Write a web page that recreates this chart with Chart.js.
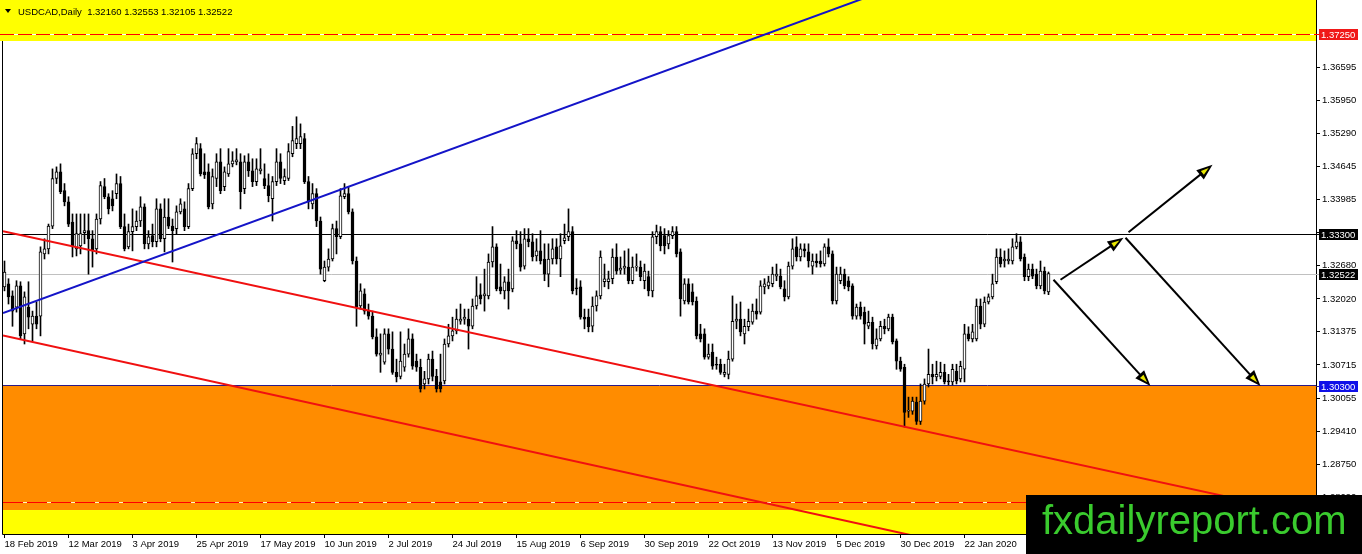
<!DOCTYPE html>
<html>
<head>
<meta charset="utf-8">
<script src="https://cdn.jsdelivr.net/npm/chart.js@4.4.1/dist/chart.umd.min.js"></script>
<style>
html,body{margin:0;padding:0;background:#fff;}
canvas{display:block;}
</style>
</head>
<body>
<canvas id="chart" width="1362" height="554"></canvas>
<script>
const title = "USDCAD,Daily  1.32160 1.32553 1.32105 1.32522";
const watermark = "fxdailyreport.com";

// x ticks: bar number -> date label
const dateTickBars = [0,16,32,48,64,80,96,112,128,144,160,176,192,208,224,240];
const dateTickLabels = ["18 Feb 2019","12 Mar 2019","3 Apr 2019","25 Apr 2019","17 May 2019","10 Jun 2019",
  "2 Jul 2019","24 Jul 2019","15 Aug 2019","6 Sep 2019","30 Sep 2019","22 Oct 2019","13 Nov 2019",
  "5 Dec 2019","30 Dec 2019","22 Jan 2020"];
const priceTicks = [1.36595,1.35950,1.35290,1.34645,1.33985,1.33325,1.32680,1.32020,1.31375,1.30715,1.30055,1.29410,1.28750,1.28090];

/* daily candles */
const opens = [
1.3226,1.3232,1.3208,1.3186,1.3228,1.3133,1.3186,1.3152,1.3168,1.3168,
1.3291,1.3301,1.3346,1.3440,1.3453,1.3416,1.3394,1.3354,1.3301,1.3307,
1.3333,1.3337,1.3321,1.3301,1.3360,1.3424,1.3404,1.3400,1.3410,1.3430,
1.3345,1.3305,1.3335,1.3345,1.3356,1.3384,1.3311,1.3327,1.3315,1.3380,
1.3321,1.3364,1.3346,1.3341,1.3374,1.3380,1.3345,1.3420,1.3489,1.3499,
1.3453,1.3453,1.3390,1.3440,1.3473,1.3424,1.3449,1.3469,1.3473,1.3473,
1.3420,1.3473,1.3455,1.3434,1.3455,1.3440,1.3426,1.3400,1.3434,1.3473,
1.3436,1.3440,1.3489,1.3509,1.3509,1.3519,1.3434,1.3390,1.3410,1.3356,
1.3238,1.3265,1.3281,1.3341,1.3325,1.3404,1.3410,1.3374,1.3277,1.3188,
1.3212,1.3178,1.3168,1.3127,1.3091,1.3077,1.3133,1.3103,1.3057,1.3049,
1.3067,1.3093,1.3123,1.3079,1.3067,1.3034,1.3044,1.3083,1.3049,1.3038,
1.3040,1.3113,1.3129,1.3139,1.3158,1.3162,1.3162,1.3148,1.3188,1.3210,
1.3208,1.3208,1.3275,1.3305,1.3226,1.3218,1.3236,1.3222,1.3317,1.3311,
1.3267,1.3321,1.3315,1.3287,1.3297,1.3281,1.3251,1.3281,1.3305,1.3281,
1.3317,1.3325,1.3335,1.3224,1.3226,1.3166,1.3166,1.3148,1.3188,1.3208,
1.3236,1.3236,1.3242,1.3285,1.3259,1.3263,1.3265,1.3238,1.3265,1.3265,
1.3238,1.3246,1.3218,1.3325,1.3335,1.3327,1.3311,1.3327,1.3335,1.3295,
1.3198,1.3232,1.3216,1.3198,1.3133,1.3133,1.3087,1.3097,1.3073,1.3073,
1.3053,1.3053,1.3083,1.3158,1.3162,1.3133,1.3147,1.3156,1.3178,1.3176,
1.3226,1.3228,1.3232,1.3247,1.3247,1.3222,1.3206,1.3267,1.3305,1.3285,
1.3301,1.3295,1.3267,1.3277,1.3277,1.3271,1.3305,1.3291,1.3198,1.3238,
1.3251,1.3238,1.3228,1.3168,1.3186,1.3176,1.3148,1.3156,1.3109,1.3123,
1.3148,1.3143,1.3166,1.3119,1.3079,1.3067,1.2980,1.2980,1.2998,1.2960,
1.3000,1.3034,1.3053,1.3048,1.3049,1.3057,1.3040,1.3038,1.3059,1.3044,
1.3063,1.3133,1.3123,1.3123,1.3188,1.3152,1.3196,1.3206,1.3236,1.3285,
1.3277,1.3277,1.3277,1.3305,1.3315,1.3285,1.3246,1.3261,1.3251,1.3228,
1.3257,1.32160];
const highs = [
1.3277,1.3242,1.3218,1.3238,1.3236,1.3216,1.3236,1.3178,1.3196,1.3305,
1.3321,1.3350,1.3459,1.3463,1.3469,1.3430,1.3404,1.3370,1.3370,1.3370,
1.3370,1.3370,1.3337,1.3370,1.3434,1.3440,1.3410,1.3416,1.3449,1.3444,
1.3370,1.3350,1.3380,1.3376,1.3404,1.3390,1.3337,1.3350,1.3400,1.3390,
1.3400,1.3400,1.3360,1.3386,1.3400,1.3394,1.3430,1.3499,1.3521,1.3509,
1.3489,1.3469,1.3459,1.3489,1.3499,1.3463,1.3499,1.3493,1.3499,1.3489,
1.3485,1.3489,1.3479,1.3479,1.3499,1.3469,1.3449,1.3444,1.3499,1.3489,
1.3459,1.3509,1.3543,1.3562,1.3548,1.3529,1.3444,1.3430,1.3420,1.3364,
1.3277,1.3301,1.3350,1.3356,1.3420,1.3430,1.3424,1.3380,1.3285,1.3232,
1.3222,1.3192,1.3178,1.3143,1.3133,1.3143,1.3143,1.3137,1.3083,1.3137,
1.3113,1.3143,1.3133,1.3093,1.3083,1.3059,1.3093,1.3099,1.3063,1.3093,
1.3123,1.3152,1.3166,1.3182,1.3192,1.3182,1.3182,1.3202,1.3246,1.3232,
1.3261,1.3291,1.3345,1.3311,1.3271,1.3246,1.3261,1.3325,1.3337,1.3335,
1.3341,1.3341,1.3331,1.3321,1.3337,1.3311,1.3311,1.3321,1.3321,1.3331,
1.3350,1.3380,1.3345,1.3242,1.3238,1.3182,1.3182,1.3206,1.3218,1.3297,
1.3271,1.3257,1.3301,1.3311,1.3285,1.3297,1.3301,1.3285,1.3291,1.3277,
1.3271,1.3257,1.3335,1.3348,1.3345,1.3341,1.3337,1.3345,1.3345,1.3301,
1.3242,1.3242,1.3232,1.3206,1.3152,1.3143,1.3113,1.3113,1.3087,1.3083,
1.3073,1.3099,1.3208,1.3192,1.3196,1.3162,1.3182,1.3192,1.3202,1.3238,
1.3242,1.3247,1.3265,1.3271,1.3261,1.3238,1.3275,1.3321,1.3325,1.3311,
1.3311,1.3311,1.3291,1.3291,1.3297,1.3311,1.3321,1.3297,1.3265,1.3265,
1.3261,1.3246,1.3232,1.3192,1.3196,1.3186,1.3178,1.3166,1.3143,1.3158,
1.3162,1.3172,1.3172,1.3123,1.3087,1.3073,1.3008,1.3008,1.3008,1.3034,
1.3044,1.3103,1.3073,1.3079,1.3077,1.3073,1.3053,1.3073,1.3073,1.3079,
1.3152,1.3147,1.3152,1.3202,1.3202,1.3206,1.3212,1.3251,1.3301,1.3301,
1.3297,1.3301,1.3321,1.3331,1.3325,1.3291,1.3271,1.3271,1.3261,1.3277,
1.3265,1.32553];
const lows = [
1.3218,1.3192,1.3148,1.3176,1.3123,1.3113,1.3143,1.3119,1.3143,1.3129,
1.3281,1.3291,1.3341,1.3430,1.3410,1.3386,1.3345,1.3285,1.3287,1.3291,
1.3311,1.3251,1.3265,1.3291,1.3350,1.3400,1.3370,1.3376,1.3400,1.3341,
1.3297,1.3301,1.3297,1.3337,1.3345,1.3301,1.3301,1.3305,1.3305,1.3315,
1.3295,1.3341,1.3275,1.3331,1.3370,1.3337,1.3341,1.3416,1.3479,1.3445,
1.3440,1.3380,1.3380,1.3424,1.3410,1.3416,1.3444,1.3463,1.3467,1.3380,
1.3410,1.3444,1.3424,1.3426,1.3449,1.3420,1.3394,1.3356,1.3426,1.3430,
1.3428,1.3436,1.3483,1.3499,1.3499,1.3430,1.3380,1.3380,1.3345,1.3251,
1.3236,1.3257,1.3277,1.3291,1.3321,1.3400,1.3370,1.3271,1.3148,1.3182,
1.3172,1.3162,1.3123,1.3089,1.3057,1.3073,1.3093,1.3053,1.3038,1.3044,
1.3059,1.3087,1.3063,1.3059,1.3018,1.3024,1.3034,1.3040,1.3018,1.3018,
1.3034,1.3107,1.3119,1.3133,1.3152,1.3152,1.3103,1.3143,1.3182,1.3192,
1.3178,1.3202,1.3265,1.3218,1.3212,1.3202,1.3182,1.3216,1.3301,1.3257,
1.3261,1.3305,1.3277,1.3277,1.3271,1.3238,1.3226,1.3271,1.3271,1.3246,
1.3311,1.3317,1.3212,1.3210,1.3162,1.3143,1.3137,1.3137,1.3178,1.3202,
1.3226,1.3222,1.3232,1.3251,1.3251,1.3251,1.3232,1.3232,1.3257,1.3238,
1.3222,1.3208,1.3206,1.3311,1.3297,1.3291,1.3301,1.3321,1.3285,1.3168,
1.3192,1.3192,1.3190,1.3123,1.3117,1.3083,1.3083,1.3063,1.3063,1.3053,
1.3048,1.3044,1.3079,1.3143,1.3129,1.3113,1.3139,1.3152,1.3162,1.3172,
1.3212,1.3222,1.3226,1.3238,1.3222,1.3198,1.3202,1.3261,1.3277,1.3277,
1.3285,1.3265,1.3251,1.3265,1.3265,1.3267,1.3285,1.3192,1.3192,1.3232,
1.3222,1.3218,1.3162,1.3162,1.3162,1.3113,1.3143,1.3103,1.3103,1.3119,
1.3133,1.3139,1.3113,1.3063,1.3059,1.2949,1.2968,1.2974,1.2954,1.2954,
1.2994,1.3028,1.3034,1.3040,1.3044,1.3034,1.3032,1.3032,1.3034,1.3038,
1.3038,1.3119,1.3117,1.3119,1.3143,1.3147,1.3192,1.3202,1.3232,1.3265,
1.3265,1.3271,1.3271,1.3301,1.3277,1.3238,1.3238,1.3242,1.3222,1.3222,
1.3212,1.32105];
const closes = [
1.3255,1.3206,1.3178,1.3228,1.3129,1.3206,1.3166,1.3168,1.3152,1.3295,
1.3301,1.3346,1.3440,1.3453,1.3414,1.3394,1.3350,1.3305,1.3331,1.3331,
1.3337,1.3321,1.3297,1.3360,1.3426,1.3404,1.3380,1.3386,1.3430,1.3345,
1.3301,1.3335,1.3345,1.3356,1.3384,1.3311,1.3325,1.3315,1.3380,1.3321,
1.3364,1.3346,1.3337,1.3374,1.3390,1.3345,1.3420,1.3489,1.3509,1.3449,
1.3447,1.3384,1.3444,1.3473,1.3416,1.3453,1.3469,1.3475,1.3477,1.3414,
1.3473,1.3455,1.3434,1.3459,1.3459,1.3426,1.3406,1.3434,1.3473,1.3440,
1.3444,1.3493,1.3515,1.3519,1.3523,1.3434,1.3394,1.3410,1.3356,1.3261,
1.3265,1.3281,1.3341,1.3325,1.3406,1.3410,1.3374,1.3277,1.3186,1.3218,
1.3178,1.3168,1.3127,1.3093,1.3095,1.3133,1.3103,1.3057,1.3048,1.3079,
1.3093,1.3123,1.3069,1.3067,1.3024,1.3044,1.3083,1.3049,1.3024,1.3024,
1.3113,1.3129,1.3139,1.3162,1.3162,1.3166,1.3148,1.3188,1.3208,1.3202,
1.3212,1.3275,1.3305,1.3222,1.3218,1.3236,1.3218,1.3317,1.3311,1.3265,
1.3321,1.3315,1.3285,1.3297,1.3277,1.3251,1.3281,1.3301,1.3281,1.3307,
1.3323,1.3335,1.3218,1.3222,1.3166,1.3162,1.3147,1.3188,1.3208,1.3285,
1.3242,1.3242,1.3285,1.3257,1.3263,1.3267,1.3238,1.3265,1.3267,1.3246,
1.3257,1.3218,1.3325,1.3335,1.3307,1.3307,1.3327,1.3335,1.3291,1.3202,
1.3232,1.3196,1.3196,1.3129,1.3123,1.3087,1.3093,1.3069,1.3071,1.3057,
1.3057,1.3083,1.3158,1.3162,1.3137,1.3148,1.3158,1.3178,1.3172,1.3228,
1.3232,1.3236,1.3251,1.3251,1.3226,1.3206,1.3267,1.3301,1.3285,1.3301,
1.3297,1.3277,1.3277,1.3273,1.3271,1.3305,1.3291,1.3198,1.3251,1.3251,
1.3228,1.3226,1.3168,1.3186,1.3168,1.3152,1.3156,1.3113,1.3123,1.3148,
1.3143,1.3166,1.3117,1.3079,1.3063,1.2978,1.2982,1.3000,1.2960,1.3000,
1.3034,1.3053,1.3048,1.3053,1.3057,1.3038,1.3038,1.3063,1.3040,1.3069,
1.3133,1.3123,1.3137,1.3188,1.3152,1.3196,1.3206,1.3232,1.3285,1.3271,
1.3281,1.3281,1.3305,1.3315,1.3281,1.3246,1.3261,1.3247,1.3228,1.3257,
1.3218,1.32522];

/* drawn objects (price levels, zones, trend lines, arrows) */
const resistanceLevel = 1.33300;
const bidLevel = 1.32522;
const supportLevel = 1.30300;
const upperDashLevel = 1.37250;
const lowerDashLevel = 1.28000;
const topZone = [1.37118, 1.3800];
const orangeZone = [1.27849, 1.30300];
const bottomZone = [1.2730, 1.27849];
const blueTrend = [[-0.375, 1.3174], [230, 1.3840]];
const redTrendUpper = [[-0.375, 1.3336], [328, 1.2773]];
const redTrendLower = [[-0.375, 1.3130], [240, 1.2712]];
// [barFrom, priceFrom, barTo, priceTo]
const arrowLines = [
  [264, 1.3240, 279.75, 1.3323],
  [281, 1.3334, 302, 1.3467],
  [262.25, 1.3240, 286.5, 1.3030],
  [280.25, 1.3323, 314, 1.3030]
];

const yMin = 1.27375, yMax = 1.37928;
const FAMILY = '"Liberation Sans", Arial, sans-serif';
const FONT = '9.5px ' + FAMILY;

const wicks = lows.map((l,i)=>({x:i, y:[l, highs[i]]}));
const bodies = opens.map((o,i)=>({x:i, y:[o, closes[i]]}));
const bodyColors = opens.map((o,i)=> closes[i] >= o ? '#ffffff' : '#000000');

function hline(ctx, a, y, color, dash, under){
  const py = Math.round(y) + 0.5;
  if(under){
    ctx.strokeStyle = under; ctx.setLineDash([]);
    ctx.beginPath(); ctx.moveTo(a.left, py); ctx.lineTo(a.right, py); ctx.stroke();
  }
  ctx.strokeStyle = color; ctx.setLineDash(dash || []);
  ctx.beginPath(); ctx.moveTo(a.left, py); ctx.lineTo(a.right, py); ctx.stroke();
  ctx.setLineDash([]);
}

function drawArrow(ctx, x1, y1, x2, y2){
  const ang = Math.atan2(y2-y1, x2-x1), c = Math.cos(ang), s = Math.sin(ang);
  ctx.strokeStyle = '#000'; ctx.lineWidth = 2;
  ctx.beginPath(); ctx.moveTo(x1, y1); ctx.lineTo(x2 - 8*c, y2 - 8*s); ctx.stroke();
  const L = 16, W = 6;
  const bx = x2 - L*c, by = y2 - L*s;
  ctx.fillStyle = '#000';
  ctx.beginPath(); ctx.moveTo(x2, y2); ctx.lineTo(bx + W*s, by - W*c); ctx.lineTo(bx - W*s, by + W*c); ctx.closePath(); ctx.fill();
  const W2 = 2.4, bx2 = x2 - 13*c, by2 = y2 - 13*s;
  ctx.fillStyle = '#e8e800';
  ctx.beginPath(); ctx.moveTo(x2 - 5*c, y2 - 5*s); ctx.lineTo(bx2 + W2*s, by2 - W2*c); ctx.lineTo(bx2 - W2*s, by2 + W2*c); ctx.closePath(); ctx.fill();
}

function priceTag(ctx, py, text, bg, lineColor){
  py = Math.round(py);
  ctx.strokeStyle = lineColor; ctx.lineWidth = 1;
  ctx.beginPath(); ctx.moveTo(1316, py+0.5); ctx.lineTo(1319, py+0.5); ctx.stroke();
  ctx.fillStyle = bg;
  ctx.fillRect(1319, py-5, 39, 11);
  ctx.fillStyle = '#fff';
  ctx.font = FONT; ctx.textAlign = 'left'; ctx.textBaseline = 'middle';
  ctx.fillText(text, 1321, py+1);
}

const mt4 = {
  id: 'mt4',
  beforeDraw(chart){
    const ctx = chart.ctx;
    ctx.save(); ctx.fillStyle = '#fff'; ctx.fillRect(0, 0, chart.width, chart.height); ctx.restore();
  },
  beforeDatasetsDraw(chart){
    const {ctx, chartArea: a, scales: {y}} = chart;
    ctx.save();
    const band = (z, color, left) => {
      const t = Math.max(y.getPixelForValue(z[1]), a.top), b = Math.min(y.getPixelForValue(z[0]), a.bottom);
      ctx.fillStyle = color; ctx.fillRect(left, t, a.right - left, b - t);
    };
    band(topZone, '#ffff00', 0);
    band(orangeZone, '#ff8c00', a.left);
    band(bottomZone, '#ffff00', a.left);
    ctx.lineWidth = 1;
    hline(ctx, {left: 0, right: a.right}, y.getPixelForValue(upperDashLevel), '#ff0000', [14, 4], '#ffffff');
    hline(ctx, a, y.getPixelForValue(lowerDashLevel), '#ff0000', [20, 4], '#fff4c8');
    hline(ctx, a, y.getPixelForValue(bidLevel), '#c0c0c0');
    hline(ctx, a, y.getPixelForValue(resistanceLevel), '#000000');
    hline(ctx, a, y.getPixelForValue(supportLevel) - 1, '#2a1a88');
    ctx.restore();
  },
  afterDraw(chart){
    const {ctx, chartArea: a, scales: {x, y}} = chart;
    ctx.save();
    ctx.beginPath(); ctx.rect(a.left, a.top, a.right - a.left, a.bottom - a.top); ctx.clip();
    arrowLines.forEach(r => drawArrow(ctx, x.getPixelForValue(r[0]), y.getPixelForValue(r[1]),
                                           x.getPixelForValue(r[2]), y.getPixelForValue(r[3])));
    ctx.restore();

    ctx.save();
    // frame
    ctx.strokeStyle = '#000'; ctx.lineWidth = 1;
    ctx.beginPath();
    ctx.moveTo(2.5, y.getPixelForValue(topZone[0])); ctx.lineTo(2.5, a.bottom + 0.5);
    ctx.lineTo(a.right + 0.5, a.bottom + 0.5); ctx.lineTo(a.right + 0.5, 0);
    ctx.stroke();

    priceTag(ctx, y.getPixelForValue(upperDashLevel), upperDashLevel.toFixed(5), '#f01818', '#ff0000');
    priceTag(ctx, y.getPixelForValue(resistanceLevel), resistanceLevel.toFixed(5), '#000000', '#000000');
    priceTag(ctx, y.getPixelForValue(bidLevel), bidLevel.toFixed(5), '#000000', '#c0c0c0');
    priceTag(ctx, y.getPixelForValue(supportLevel), supportLevel.toFixed(5), '#1010e8', '#2a1a88');

    // header
    ctx.fillStyle = '#000';
    ctx.beginPath(); ctx.moveTo(5, 9); ctx.lineTo(11, 9); ctx.lineTo(8, 13); ctx.closePath(); ctx.fill();
    ctx.font = FONT; ctx.textAlign = 'left'; ctx.textBaseline = 'middle';
    ctx.fillText(title, 18, 12);

    // watermark
    ctx.fillStyle = '#000';
    ctx.fillRect(1026, 495, chart.width - 1026, chart.height - 495);
    ctx.fillStyle = '#3acb2e';
    ctx.font = '40px ' + FAMILY;
    ctx.textBaseline = 'alphabetic';
    ctx.fillText(watermark, 1042, 534);
    ctx.restore();
  }
};

const lineDs = (pts, color) => ({
  type: 'line', order: 0,
  data: pts.map(p => ({x: p[0], y: p[1]})),
  borderColor: color, borderWidth: 2, pointRadius: 0, fill: false, tension: 0
});

new Chart(document.getElementById('chart'), {
  type: 'bar',
  data: {
    datasets: [
      lineDs(blueTrend, '#1414c8'),
      lineDs(redTrendUpper, '#f01010'),
      lineDs(redTrendLower, '#f01010'),
      { order: 1, data: bodies, backgroundColor: bodyColors, borderColor: '#000', borderWidth: 1,
        borderSkipped: false, barThickness: 3, grouped: false, minBarLength: 1 },
      { order: 2, data: wicks, backgroundColor: '#000', borderWidth: 0, barThickness: 1, grouped: false }
    ]
  },
  options: {
    responsive: false,
    animation: false,
    events: [],
    layout: { padding: { left: 3, top: 0, right: 0, bottom: 0 } },
    plugins: { legend: { display: false }, tooltip: { enabled: false } },
    scales: {
      x: {
        type: 'linear', min: -0.375, max: 327.875, offset: false,
        afterBuildTicks: s => { s.ticks = dateTickBars.map(v => ({value: v})); },
        afterFit: s => { s.height = 20; s.paddingLeft = 0; s.paddingRight = 0; },
        ticks: { autoSkip: false, maxRotation: 0, align: 'start', padding: 1, color: '#000',
                 font: { family: FAMILY, size: 9.5 },
                 callback: (v, i) => dateTickLabels[i] },
        grid: { drawOnChartArea: false, drawTicks: true, tickLength: 4, color: '#000', offset: false },
        border: { display: true, color: '#000' }
      },
      y: {
        position: 'right', min: yMin, max: yMax,
        afterBuildTicks: s => { s.ticks = priceTicks.map(v => ({value: v})); },
        afterFit: s => { s.width = 46; s.paddingTop = 0; s.paddingBottom = 0; },
        ticks: { autoSkip: false, padding: 2, color: '#000',
                 font: { family: FAMILY, size: 9.5 },
                 callback: v => v.toFixed(5) },
        grid: { drawOnChartArea: false, drawTicks: true, tickLength: 4, color: '#000' },
        border: { display: true, color: '#000' }
      }
    }
  },
  plugins: [mt4]
});
</script>
</body>
</html>
